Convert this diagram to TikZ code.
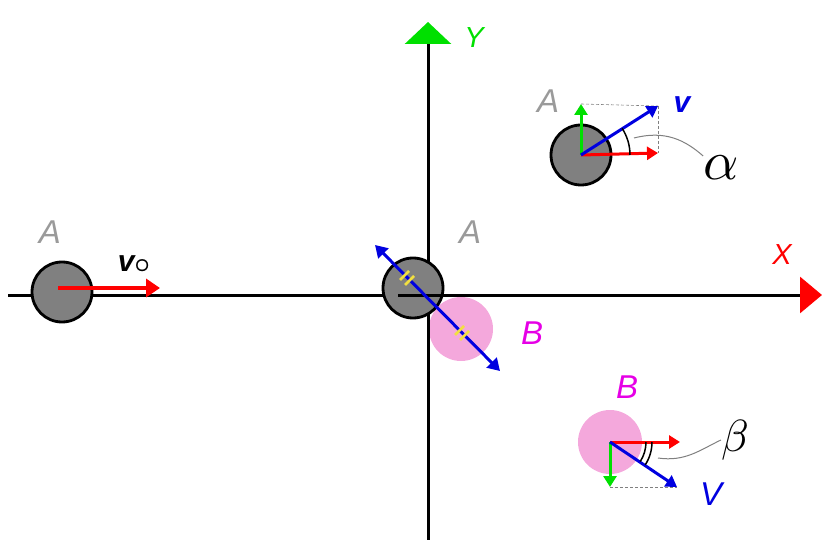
\documentclass[tikz,border=0pt]{standalone}
\usepackage{amsmath}
\usepackage{fontspec}
\setmainfont{Liberation Sans}
\usetikzlibrary{arrows.meta}
\definecolor{cred}{HTML}{FF0000}
\definecolor{cblue}{HTML}{0000E0}
\definecolor{cgreen}{HTML}{00E000}
\definecolor{cball}{HTML}{808080}
\definecolor{cpink}{HTML}{F4A8DC}
\definecolor{cmag}{HTML}{E600E6}
\definecolor{clab}{HTML}{9A9A9A}
\definecolor{cyel}{HTML}{F2E040}
\begin{document}
\begin{tikzpicture}[x=1pt,y=-1pt,
  ballA/.style={circle,draw=black,line width=2.8pt,fill=cball,minimum size=60pt,inner sep=0pt},
  ballB/.style={circle,fill=cpink,minimum size=64pt,inner sep=0pt},
  lab/.style={font=\fontsize{33}{33}\selectfont\itshape,inner sep=0pt},
  vec/.style={line width=3.5pt,-{Triangle[length=14pt,width=18pt]}},
  comp/.style={line width=3pt,-{Triangle[length=11pt,width=13pt]}},
  dline/.style={densely dashed,line width=0.6pt,gray},
  lead/.style={gray,line width=1pt},
  ymark/.style={cyel,line width=2.5pt}]
\useasboundingbox (0,0) rectangle (822,540);
% axes
\coordinate (xs) at (8,295);
\coordinate (xe) at (822,295);
\coordinate (ys) at (428,540);
\coordinate (ye) at (428,22);
\draw[line width=3pt,-{Triangle[length=22pt,width=36pt,fill=cred,color=cred]}] (xs) -- (xe);
\draw[line width=3pt,-{Triangle[length=22pt,width=46pt,fill=cgreen,color=cgreen]}] (ys) -- (ye);
\node[lab,text=cred,font=\fontsize{29}{29}\selectfont\itshape] (X) at (782,255) {X};
\node[lab,text=cgreen,font=\fontsize{29}{29}\selectfont\itshape] (Y) at (474,38) {Y};
% left ball
\node[ballA] (A1) at (62,292) {};
\node[lab,text=clab] (lA1) at (50,232) {A};
\coordinate (v0s) at (58,288);
\coordinate (v0e) at (160,288);
\draw[vec,cred] (v0s) -- (v0e);
\node[inner sep=0pt,font=\fontsize{30}{30}\selectfont\bfseries\itshape] (v0) at (134,264) {v\raisebox{-1pt}{\scalebox{1.1}{$\boldsymbol{\circ}$}}};
% collision
\node[ballB] (B2) at (461,329) {};
\draw[line width=3pt] (ys) -- (428,295);
\node[ballA] (A2) at (413,288) {};
\draw[line width=3pt] (398,295) -- (446,295);
\coordinate (c1) at (375,245);
\coordinate (c2) at (500,371);
\draw[line width=3pt,cblue,{Triangle[length=12pt,width=14pt]}-{Triangle[length=12pt,width=14pt]}] (c1) -- (c2);
\coordinate (m1) at (407,278);
\coordinate (m2) at (462,333);
\draw[ymark] ([shift={(-7,2)}]m1) -- ([shift={(2,-7)}]m1);
\draw[ymark] ([shift={(-2,7)}]m1) -- ([shift={(7,-2)}]m1);
\draw[ymark] ([shift={(-7,2)}]m2) -- ([shift={(2,-7)}]m2);
\draw[ymark] ([shift={(-2,7)}]m2) -- ([shift={(7,-2)}]m2);
\node[lab,text=clab] (lA2) at (470,232) {A};
\node[lab,text=cmag] (lB2) at (532,333) {B};
% top right
\node[ballA] (A3) at (581,155) {};
\node[lab,text=clab] (lA3) at (548,101) {A};
\coordinate (vt) at (658,106);
\coordinate (vx) at (658,153);
\coordinate (vy) at (581,104);
\draw[dline] (vy) -- (vt);
\draw[dline] (vt) -- (vx);
\draw[comp,cgreen] (A3.center) -- (vy);
\draw[comp,cred] (A3.center) -- (vx);
\draw[comp,cblue] (A3.center) -- (vt);
\draw[line width=1.5pt] ([shift={(0:49)}]A3.center) arc[start angle=0,end angle=-33,radius=49];
\node[inner sep=0pt,text=cblue,font=\fontsize{30}{30}\selectfont\bfseries\itshape] (lv) at (682,105) {v};
\node[inner sep=0pt] (alpha) at (721,168) {\scalebox{5.5}{$\alpha$}};
\draw[lead] (634,138) .. controls (665,130) and (685,140) .. (alpha.north west);
% bottom right
\node[ballB] (B4) at (610,442) {};
\node[lab,text=cmag] (lB4) at (627,387) {B};
\coordinate (wt) at (677,487);
\coordinate (wx) at (680,442);
\coordinate (wy) at (610,487);
\draw[dline] (wy) -- (wt);
\draw[comp,cgreen] (B4.center) -- (wy);
\draw[comp,cred] (B4.center) -- (wx);
\draw[comp,cblue] (B4.center) -- (wt);
\draw[line width=1.5pt] ([shift={(0:36)}]B4.center) arc[start angle=0,end angle=33,radius=36];
\draw[line width=1.5pt] ([shift={(0:42)}]B4.center) arc[start angle=0,end angle=33,radius=42];
\node[inner sep=0pt] (beta) at (735,440) {\scalebox{4.5}{$\beta$}};
\draw[lead] (658,458) .. controls (685,462) and (700,450) .. (beta.west);
\node[lab,text=cblue] (lV) at (711,494) {V};
\end{tikzpicture}
\end{document}
